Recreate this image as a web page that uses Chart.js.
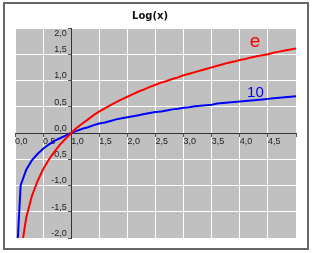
<!DOCTYPE html>
<html>
<head>
<meta charset="utf-8">
<script src="https://cdn.jsdelivr.net/npm/chart.js@4.4.1/dist/chart.umd.min.js"></script>
<style>
  html, body { margin: 0; padding: 0; background: #fff; }
  canvas { display: block; }
</style>
</head>
<body>
<canvas id="logChart" width="312" height="253"></canvas>
<script>
const xValues = [0.001, 0.1, 0.2, 0.3, 0.4, 0.5, 0.6, 0.7, 0.8, 0.9, 1.0,
  1.1, 1.2, 1.3, 1.4, 1.5, 1.6, 1.7, 1.8, 1.9, 2.0,
  2.1, 2.2, 2.3, 2.4, 2.5, 2.6, 2.7, 2.8, 2.9, 3.0,
  3.1, 3.2, 3.3, 3.4, 3.5, 3.6, 3.7, 3.8, 3.9, 4.0,
  4.1, 4.2, 4.3, 4.4, 4.5, 4.6, 4.7, 4.8, 4.9, 5.0];
const lnValues = [-6.91, -2.30, -1.61, -1.20, -0.92, -0.69, -0.51, -0.36, -0.22, -0.11, 0.00,
  0.10, 0.18, 0.26, 0.34, 0.41, 0.47, 0.53, 0.59, 0.64, 0.69,
  0.74, 0.79, 0.83, 0.88, 0.92, 0.96, 0.99, 1.03, 1.06, 1.10,
  1.13, 1.16, 1.19, 1.22, 1.25, 1.28, 1.31, 1.34, 1.36, 1.39,
  1.41, 1.44, 1.46, 1.48, 1.50, 1.53, 1.55, 1.57, 1.59, 1.61];
const log10Values = [-3.00, -1.00, -0.70, -0.52, -0.40, -0.30, -0.22, -0.15, -0.10, -0.05, 0.00,
  0.04, 0.08, 0.11, 0.15, 0.18, 0.20, 0.23, 0.26, 0.28, 0.30,
  0.32, 0.34, 0.36, 0.38, 0.40, 0.41, 0.43, 0.45, 0.46, 0.48,
  0.49, 0.51, 0.52, 0.53, 0.54, 0.56, 0.57, 0.58, 0.59, 0.60,
  0.61, 0.62, 0.63, 0.64, 0.65, 0.66, 0.67, 0.68, 0.69, 0.70];
const seriesLabels = ['e', '10'];
const seriesColors = ['#ff0000', '#0000ff'];
const chartTitle = 'Log(x)';
const yMax = 2;

const toPoints = vals => vals.map((v, i) => ({ x: xValues[i], y: v }));
const fmt = v => v.toFixed(1).replace('.', ',');
const tickFont = { family: 'Liberation Sans', size: 9 };

// Hintergrund, Rahmen, Titel, Kurvenbeschriftung
const decorations = {
  id: 'decorations',
  beforeDraw(chart) {
    const { ctx, chartArea: a } = chart;
    ctx.save();
    ctx.fillStyle = '#c0c0c0';
    ctx.fillRect(a.left, a.top, a.right - a.left, a.bottom - a.top);
    ctx.restore();
  },
  afterDraw(chart) {
    const { ctx, scales: { x, y } } = chart;
    ctx.save();
    ctx.strokeStyle = '#666';
    ctx.lineWidth = 2;
    ctx.strokeRect(4, 3, 304, 246);
    ctx.fillStyle = '#111';
    ctx.font = 'bold 10px "DejaVu Sans"';
    ctx.textAlign = 'center';
    ctx.textBaseline = 'alphabetic';
    ctx.fillText(chartTitle, 150, 19);
    // oberste y-Beschriftung unterhalb der Linie
    ctx.font = '9px "Liberation Sans"';
    ctx.fillStyle = '#222';
    ctx.textAlign = 'right';
    ctx.textBaseline = 'top';
    ctx.fillText(fmt(yMax) + '\u2002', x.getPixelForValue(1), y.getPixelForValue(yMax) + 1);
    ctx.textBaseline = 'alphabetic';
    ctx.font = '19px "Liberation Sans"';
    ctx.fillStyle = seriesColors[0];
    ctx.textAlign = 'center';
    ctx.fillText(seriesLabels[0], x.getPixelForValue(4.27), y.getPixelForValue(1.63));
    ctx.font = '15px "Liberation Sans"';
    ctx.fillStyle = seriesColors[1];
    ctx.textAlign = 'left';
    ctx.fillText(seriesLabels[1], x.getPixelForValue(4.13), y.getPixelForValue(0.69));
    ctx.restore();
  }
};

new Chart(document.getElementById('logChart'), {
  type: 'line',
  data: {
    datasets: [
      { label: seriesLabels[0], data: toPoints(lnValues), borderColor: seriesColors[0], borderWidth: 2, pointRadius: 0, tension: 0 },
      { label: seriesLabels[1], data: toPoints(log10Values), borderColor: seriesColors[1], borderWidth: 2, pointRadius: 0, tension: 0 }
    ]
  },
  options: {
    responsive: false,
    animation: false,
    layout: { padding: { left: 15, top: 28, right: 16, bottom: 15 } },
    plugins: { legend: { display: false }, title: { display: false }, tooltip: { enabled: false } },
    scales: {
      x: {
        type: 'linear', min: 0, max: 5,
        position: { y: 0 },
        grid: { color: '#ffffff', tickColor: '#555', tickLength: 3 },
        border: { color: '#333', width: 1 },
        ticks: {
          stepSize: 0.5, align: 'start', padding: 0, color: '#222', font: tickFont,
          callback: v => (v >= 5 ? '' : fmt(v))
        }
      },
      y: {
        type: 'linear', min: -2, max: yMax,
        position: { x: 1 },
        grid: { color: '#ffffff', tickColor: '#555', tickLength: 3 },
        border: { color: '#333', width: 1 },
        ticks: {
          stepSize: 0.5, align: 'end', padding: 2, color: '#222', font: tickFont,
          callback: v => (v >= yMax ? '' : fmt(v) + '\u2002')
        }
      }
    }
  },
  plugins: [decorations]
});
</script>
</body>
</html>
